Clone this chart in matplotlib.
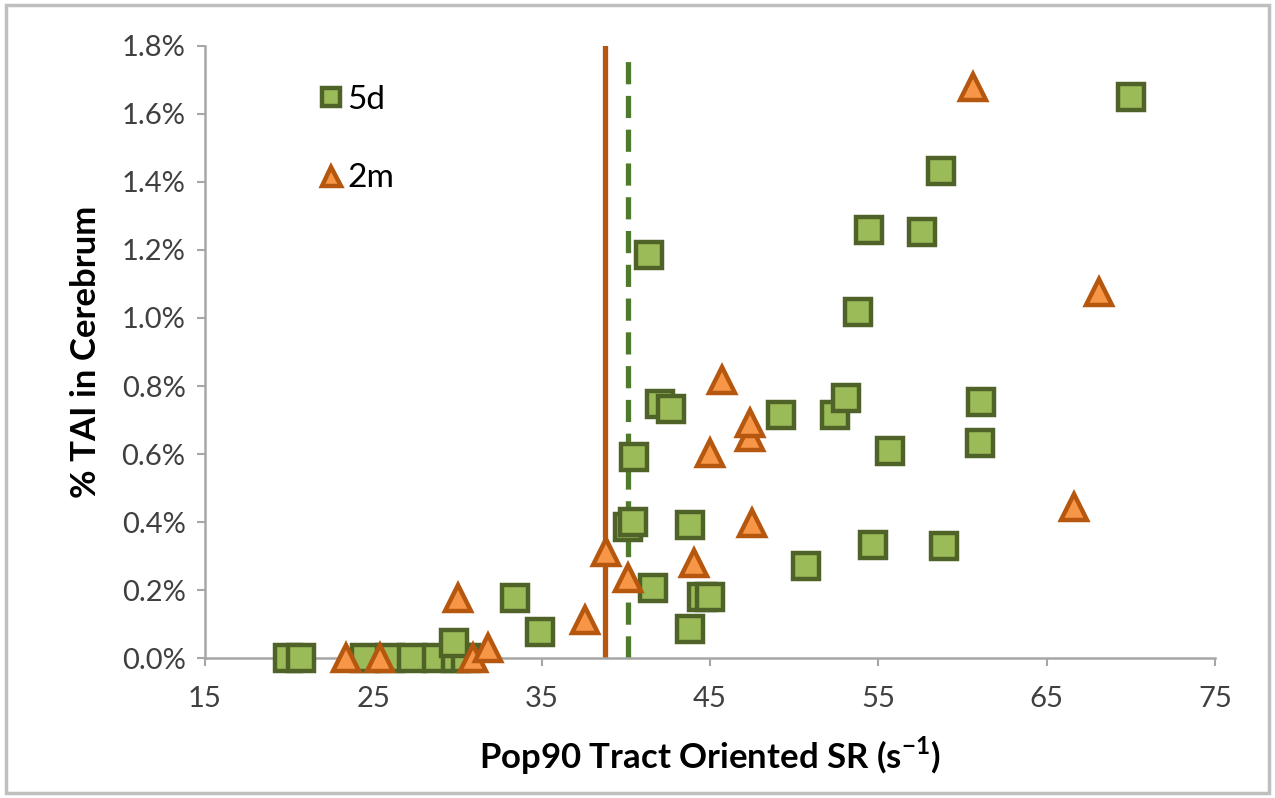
import matplotlib
matplotlib.use("Agg")
import matplotlib.pyplot as plt
from matplotlib.patches import Rectangle
from matplotlib.ticker import FuncFormatter

# 5d group (green squares): x = tract oriented SR, y = % TAI
sr_5d = [19.9, 20.7, 24.5, 26.0, 27.3, 28.8, 29.9, 30.5, 29.8, 33.4, 34.9,
         40.1, 40.4, 40.5, 41.4, 41.6, 42.0, 42.7, 43.8, 43.8, 44.5, 45.0,
         49.2, 50.7, 52.4, 53.1, 53.8, 54.45, 54.7, 55.7, 57.6, 58.7, 58.9,
         61.05, 61.1, 70.0]
tai_5d = [0.0, 0.0, 0.0, 0.0, 0.0, 0.0, 0.0, 0.0, 0.045, 0.176, 0.076,
          0.385, 0.40, 0.59, 1.185, 0.206, 0.747, 0.732, 0.39, 0.085, 0.18, 0.18,
          0.715, 0.27, 0.715, 0.765, 1.018, 1.259, 0.332, 0.61, 1.253, 1.432, 0.33,
          0.632, 0.753, 1.65]

# 2m group (orange triangles)
sr_2m = [23.4, 25.4, 30.0, 30.9, 31.8, 37.6, 38.8, 40.1, 44.05, 45.0, 45.7,
         47.4, 47.4, 47.5, 60.6, 66.6, 68.1]
tai_2m = [0.0, 0.0, 0.176, 0.0, 0.03, 0.112, 0.312, 0.235, 0.28, 0.603, 0.818,
          0.65, 0.69, 0.397, 1.68, 0.444, 1.076]

# threshold lines
thresh_2m = 38.77
thresh_5d = 40.13

x_ticks = [15, 25, 35, 45, 55, 65, 75]
y_ticks = [0.0, 0.2, 0.4, 0.6, 0.8, 1.0, 1.2, 1.4, 1.6, 1.8]

plt.rcParams['font.family'] = ['Lato', 'DejaVu Sans']

fig = plt.figure(figsize=(12.75, 7.98), dpi=100)
ax = fig.add_axes([0.1608, 0.1754, 0.7922, 0.767])

# outer frame around the whole picture
fig.patches.append(Rectangle((0.005, 0.006), 0.99, 0.988, transform=fig.transFigure,
                             fill=False, edgecolor='#BFBFBF', linewidth=2.5))

ax.plot([thresh_2m, thresh_2m], [0, 1.8], color='#B5570F', linewidth=3.8, zorder=1)
ax.plot([thresh_5d, thresh_5d], [0, 1.78], color='#4F7A2B', linewidth=3.8,
        dashes=(4.2, 2.2), zorder=1)

ax.plot(sr_5d, tai_5d, linestyle='none', marker='s', markersize=18.5,
        markerfacecolor='#9BBB59', markeredgecolor='#4F6228', markeredgewidth=3.2,
        label='5d', zorder=3, clip_on=False)
ax.plot(sr_2m, tai_2m, linestyle='none', marker='^', markersize=19,
        markerfacecolor='#F79646', markeredgecolor='#B5570F', markeredgewidth=3.2,
        label='2m', zorder=4, clip_on=False)

ax.set_xlim(15, 75)
ax.set_ylim(0, 1.8)
ax.set_xticks(x_ticks)
ax.set_yticks(y_ticks)
ax.yaxis.set_major_formatter(FuncFormatter(lambda v, p: f"{v:.1f}%"))

for s in ['top', 'right']:
    ax.spines[s].set_visible(False)
for s in ['left', 'bottom']:
    ax.spines[s].set_color('#A6A6A6')
    ax.spines[s].set_linewidth(1.8)

ax.tick_params(axis='both', colors='#A6A6A6', labelcolor='#404040', labelsize=21,
               width=1.5, length=6)
ax.tick_params(axis='x', pad=14)
ax.tick_params(axis='y', pad=8)

ax.set_xlabel('Pop90 Tract Oriented SR (s$^{\\mathregular{-1}}$)', fontsize=25,
              fontweight='bold', labelpad=16)
ax.set_ylabel('% TAI in Cerebrum', fontsize=25, fontweight='bold', labelpad=14)

ax.legend(loc='upper left', bbox_to_anchor=(0.08, 0.985), frameon=False,
          fontsize=24, labelspacing=1.45, handletextpad=0.05, markerscale=0.72,
          handlelength=0.9)

fig.savefig('out.png', dpi=100)
